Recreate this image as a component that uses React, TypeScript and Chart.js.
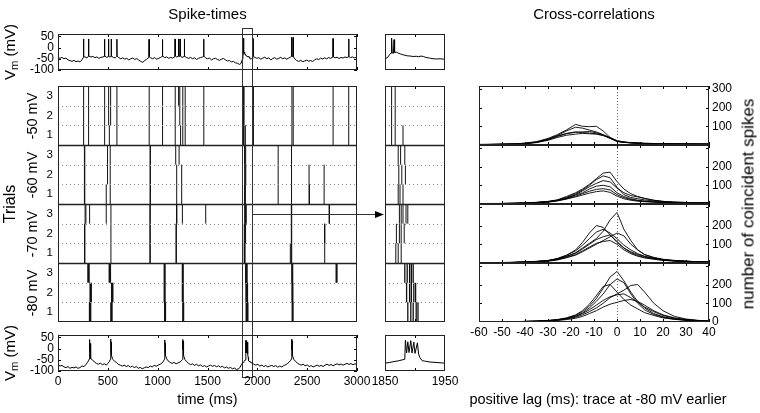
import React, { useEffect, useRef } from "react";
import { Chart, registerables } from "chart.js";

Chart.register(...registerables);

const W = 760;
const H = 413;
const FONT = "'Liberation Sans', Arial, Helvetica, sans-serif";

// ---------------- DATA ----------------
// Membrane potential trace recorded at the -50 mV level: [time ms, Vm mV]
const vmMinus50: [number, number][] = [
  [0, -45], [20, -48], [40, -44], [60, -50], [80, -47], [100, -55], [120, -58], [140, -62], [160, -57], [180, -63],
  [200, -60], [220, -64], [240, -55], [250, -46], [256, -44], [257, 38], [258, -40], [270, -42], [290, -46], [305, -40],
  [307, 38], [309, -38], [330, -42], [350, -40], [370, -45], [390, -42], [410, -48], [430, -44], [450, -42], [465, -40],
  [467, 37], [469, -38], [490, -44], [505, -40], [507, 38], [509, -38], [520, -42], [532, -40], [534, 38], [536, -38],
  [555, -44], [575, -46], [589, -40], [591, 37], [593, -38], [610, -45], [630, -50], [650, -46], [670, -52], [690, -48],
  [710, -55], [730, -50], [750, -47], [770, -53], [790, -49], [810, -56], [830, -62], [850, -66], [870, -58], [890, -52],
  [905, -46], [912, -42], [914, 36], [916, -40], [930, -46], [950, -50], [970, -45], [990, -52], [1010, -48], [1030, -44],
  [1046, -40], [1048, 36], [1050, -38], [1070, -45], [1090, -42], [1110, -48], [1130, -44], [1150, -47], [1165, -42], [1173, -40],
  [1175, 38], [1177, -38], [1190, -42], [1206, -39], [1208, 38], [1210, -37], [1223, -40], [1225, 38], [1227, -38], [1245, -44],
  [1266, -40], [1268, 38], [1270, -38], [1290, -45], [1310, -48], [1330, -44], [1350, -50], [1370, -46], [1390, -53], [1410, -48],
  [1430, -45], [1450, -42], [1460, -40], [1462, 37], [1464, -38], [1480, -46], [1500, -50], [1520, -47], [1540, -55], [1560, -50],
  [1580, -48], [1600, -53], [1620, -57], [1640, -52], [1660, -49], [1680, -55], [1700, -60], [1720, -58], [1740, -64], [1760, -62],
  [1780, -68], [1800, -70], [1820, -75], [1835, -72], [1845, -60], [1850, -52], [1855, -42], [1858, -30], [1860, -25], [1861, 42],
  [1862, -24], [1864, -26], [1865, 35], [1866, -22], [1869, -21], [1873, -26], [1877, -30], [1881, -33], [1887, -37], [1892, -38],
  [1897, -40], [1902, -39], [1906, -41], [1910, -38], [1914, -40], [1918, -44], [1922, -46], [1926, -48], [1930, -50], [1936, -51],
  [1942, -50], [1948, -52], [1955, -44], [1958, -40], [1959, 40], [1960, -38], [1975, -44], [1995, -48], [2015, -45], [2035, -52],
  [2055, -47], [2075, -43], [2095, -50], [2115, -46], [2135, -55], [2155, -49], [2175, -45], [2195, -52], [2215, -48], [2235, -44],
  [2255, -50], [2275, -46], [2295, -52], [2315, -47], [2335, -42], [2341, -40], [2343, 45], [2345, -38], [2357, -40], [2359, 45],
  [2361, -40], [2375, -50], [2395, -58], [2415, -62], [2435, -57], [2455, -63], [2475, -60], [2495, -56], [2515, -61], [2535, -58],
  [2555, -62], [2575, -55], [2595, -50], [2615, -54], [2635, -47], [2655, -51], [2675, -46], [2695, -50], [2715, -45], [2735, -48],
  [2750, -44], [2758, -42], [2760, 40], [2762, -40], [2780, -46], [2800, -43], [2820, -49], [2840, -44], [2860, -47], [2880, -42],
  [2900, -45], [2915, -41], [2917, 38], [2919, -40], [2935, -45], [2955, -42], [2975, -46], [3000, -43],
];

// Membrane potential trace recorded at the -80 mV level: [time ms, Vm mV]
const vmMinus80: [number, number][] = [
  [0, -72], [20, -78], [40, -75], [60, -82], [80, -85], [100, -80], [120, -88], [140, -84], [160, -86], [180, -82],
  [200, -88], [220, -85], [240, -78], [260, -80], [280, -72], [295, -62], [305, -55], [312, -48], [314, 40], [315, -5],
  [317, 35], [318, -8], [320, 30], [321, -10], [323, 22], [325, -25], [330, -45], [345, -50], [365, -60], [385, -66],
  [405, -70], [425, -65], [445, -72], [465, -68], [485, -74], [500, -66], [515, -58], [526, -48], [528, 42], [529, -5],
  [531, 35], [532, -8], [534, 28], [535, -12], [537, 20], [540, -30], [548, -48], [565, -55], [585, -62], [605, -70],
  [625, -74], [645, -78], [665, -74], [685, -80], [705, -76], [725, -83], [745, -78], [765, -85], [785, -80], [805, -88],
  [825, -84], [845, -90], [865, -86], [885, -82], [905, -85], [925, -78], [945, -82], [965, -75], [985, -79], [1005, -74],
  [1025, -70], [1045, -64], [1060, -55], [1068, -48], [1070, 38], [1071, -5], [1073, 32], [1074, -8], [1076, 25], [1077, -10],
  [1079, 20], [1082, -30], [1090, -45], [1105, -55], [1125, -62], [1145, -66], [1165, -62], [1185, -68], [1205, -64], [1225, -60],
  [1240, -54], [1250, -48], [1252, 40], [1253, -5], [1255, 33], [1256, -8], [1258, 26], [1259, -12], [1261, 20], [1264, -30],
  [1272, -48], [1290, -58], [1310, -66], [1330, -72], [1350, -68], [1370, -75], [1390, -70], [1410, -77], [1430, -73], [1450, -80],
  [1470, -76], [1490, -82], [1510, -78], [1530, -74], [1550, -79], [1570, -75], [1590, -81], [1610, -77], [1630, -83], [1650, -79],
  [1670, -86], [1690, -82], [1710, -88], [1730, -84], [1750, -90], [1770, -87], [1790, -93], [1810, -90], [1825, -85], [1840, -72],
  [1850, -65], [1858, -62], [1865, -58], [1872, -55], [1878, -51], [1883, -48], [1884, 37], [1886, -20], [1888, 30], [1890, -18],
  [1893, 35], [1895, -20], [1898, 28], [1900, -22], [1904, 25], [1906, -24], [1908, -40], [1912, -54], [1918, -57], [1925, -60],
  [1935, -62], [1950, -65], [1965, -70], [1985, -74], [2005, -70], [2025, -78], [2045, -74], [2065, -80], [2085, -76], [2105, -82],
  [2125, -78], [2145, -75], [2165, -80], [2185, -76], [2205, -83], [2225, -78], [2245, -82], [2265, -76], [2285, -72], [2305, -66],
  [2320, -60], [2335, -52], [2343, -46], [2345, 42], [2346, -5], [2348, 34], [2349, -8], [2351, 26], [2352, -12], [2354, 20],
  [2357, -30], [2365, -48], [2380, -56], [2400, -64], [2420, -70], [2440, -74], [2460, -70], [2480, -77], [2500, -73], [2520, -80],
  [2540, -76], [2560, -82], [2580, -78], [2600, -74], [2620, -79], [2640, -75], [2660, -80], [2680, -74], [2700, -70], [2720, -75],
  [2740, -71], [2760, -77], [2780, -72], [2800, -68], [2820, -73], [2840, -69], [2860, -74], [2880, -70], [2900, -66], [2920, -71],
  [2940, -67], [2960, -72], [2980, -68], [3000, -70],
];

// Spike times (ms) per holding level; inner arrays are trials 1, 2, 3
const spikesMinus50: number[][] = [
  [257, 307, 468, 515, 591, 915, 1049, 1176, 1230, 1252, 1276, 1463, 1861, 1867, 1880, 1961, 2347, 2360, 2760, 2917],
  [257, 307, 468, 508, 528, 591, 915, 1049, 1176, 1222, 1252, 1276, 1463, 1861, 1867, 1961, 2347, 2360, 2760, 2917],
  [257, 307, 468, 508, 528, 591, 915, 1049, 1176, 1210, 1222, 1252, 1276, 1463, 1861, 1867, 1961, 2347, 2360, 2760, 2917],
];
const spikesMinus60: number[][] = [
  [265, 269, 484, 524, 924, 927, 1191, 1241, 1872, 1875, 1880, 2209, 2343, 2519, 2523, 2670],
  [265, 269, 497, 524, 924, 927, 1191, 1241, 1873, 1878, 1884, 2209, 2343, 2519, 2670],
  [265, 269, 497, 524, 924, 927, 1181, 1215, 1872, 1876, 1883, 2209, 2343],
];
const spikesMinus70: number[][] = [
  [266, 270, 531, 922, 926, 1184, 1188, 1868, 1872, 1877, 2331, 2341, 2345, 2676],
  [266, 270, 531, 922, 926, 1184, 1188, 1869, 1874, 1877, 1882, 2341, 2345, 2674, 2678],
  [272, 280, 317, 484, 531, 922, 926, 1189, 1193, 1248, 1482, 1874, 1877, 1880, 1885, 1888, 2341, 2345, 2720, 2724],
];
const spikesMinus80: number[][] = [
  [316, 320, 324, 328, 530, 534, 538, 542, 1070, 1074, 1078, 1252, 1256, 1260, 1888, 1893, 1897, 1902, 1905, 2350, 2354, 2358],
  [322, 326, 330, 334, 538, 542, 546, 550, 1066, 1070, 1074, 1248, 1252, 1256, 1886, 1891, 1894, 1898, 1901, 2348, 2352, 2356],
  [300, 304, 308, 312, 514, 518, 522, 526, 1066, 1070, 1074, 1248, 1252, 1256, 1883, 1887, 1891, 1894, 1897, 2346, 2350, 2354, 2791, 2795, 2799],
];
const levelNames = ["-50 mV", "-60 mV", "-70 mV", "-80 mV"];
const trialLabels = [1, 2, 3];

// Cross-correlations: lag (ms) and coincident spike counts, one list per pair
const ccLags = [-60, -55, -50, -45, -40, -35, -30, -26, -22, -18, -15, -12, -9, -6, -3, 0, 3, 6, 9, 12, 16, 20, 25, 30, 35, 40];
const ccMinus50: number[][] = [
  [3, 4, 5, 6, 10, 18, 35, 55, 80, 110, 100, 98, 100, 75, 40, 18, 15, 12, 10, 8, 8, 7, 6, 6, 5, 5],
  [2, 3, 4, 6, 9, 16, 32, 50, 75, 95, 90, 80, 70, 55, 35, 20, 14, 12, 10, 9, 8, 7, 6, 5, 6, 5],
  [2, 3, 4, 5, 8, 14, 28, 45, 60, 68, 70, 72, 65, 55, 40, 22, 16, 12, 10, 8, 7, 7, 6, 5, 5, 4],
  [2, 2, 3, 5, 7, 13, 25, 40, 52, 58, 62, 60, 58, 50, 36, 20, 14, 11, 9, 8, 7, 6, 6, 5, 5, 5],
  [3, 3, 4, 5, 8, 15, 30, 48, 62, 70, 66, 64, 60, 52, 38, 24, 16, 13, 11, 9, 8, 7, 6, 6, 5, 4],
];
const ccMinus60: number[][] = [
  [2, 3, 3, 4, 6, 9, 14, 22, 40, 60, 80, 105, 135, 165, 170, 120, 80, 55, 40, 30, 20, 14, 10, 8, 7, 6],
  [2, 2, 3, 4, 5, 8, 13, 20, 35, 55, 75, 100, 130, 150, 140, 90, 50, 35, 28, 22, 16, 12, 9, 8, 6, 6],
  [1, 2, 3, 3, 5, 8, 12, 20, 32, 48, 60, 80, 95, 100, 92, 60, 40, 28, 20, 16, 12, 10, 8, 7, 6, 5],
  [1, 2, 2, 3, 5, 7, 11, 18, 28, 42, 55, 68, 78, 82, 75, 50, 34, 24, 18, 14, 11, 9, 7, 6, 5, 5],
  [1, 1, 2, 3, 4, 7, 10, 16, 26, 38, 48, 58, 66, 70, 62, 42, 28, 20, 15, 12, 10, 8, 7, 6, 5, 4],
  [2, 2, 3, 4, 5, 8, 12, 19, 30, 50, 70, 92, 110, 125, 118, 85, 60, 45, 38, 30, 20, 14, 10, 8, 7, 6],
];
const ccMinus70: number[][] = [
  [1, 2, 2, 3, 5, 8, 12, 20, 35, 55, 80, 105, 130, 170, 230, 270, 180, 120, 70, 45, 28, 18, 12, 9, 7, 6],
  [1, 2, 2, 3, 5, 8, 13, 22, 40, 70, 110, 160, 200, 190, 150, 110, 80, 60, 45, 35, 25, 18, 12, 9, 7, 6],
  [1, 2, 3, 4, 6, 9, 14, 24, 42, 65, 95, 130, 165, 180, 160, 130, 95, 70, 50, 36, 25, 17, 12, 9, 7, 6],
  [1, 1, 2, 3, 5, 8, 12, 20, 35, 52, 75, 100, 125, 140, 150, 115, 80, 55, 40, 30, 22, 15, 11, 8, 6, 5],
  [1, 2, 2, 3, 5, 7, 11, 18, 30, 45, 65, 85, 105, 115, 120, 100, 70, 50, 36, 27, 20, 14, 10, 8, 6, 5],
  [1, 1, 2, 3, 5, 7, 10, 16, 28, 42, 60, 80, 100, 120, 140, 160, 145, 100, 70, 45, 30, 20, 14, 10, 7, 6],
];
const ccMinus80: number[][] = [
  [1, 1, 2, 2, 3, 5, 8, 12, 20, 35, 55, 85, 125, 180, 240, 270, 220, 160, 110, 75, 45, 28, 16, 10, 7, 5],
  [1, 1, 1, 2, 3, 4, 6, 10, 16, 25, 38, 55, 75, 100, 130, 150, 170, 195, 200, 160, 100, 60, 30, 16, 9, 6],
  [1, 1, 2, 2, 3, 5, 8, 13, 22, 38, 60, 95, 140, 190, 200, 160, 120, 90, 70, 50, 35, 22, 14, 9, 6, 5],
  [1, 1, 1, 2, 3, 4, 7, 11, 18, 30, 45, 65, 90, 115, 135, 145, 150, 130, 105, 80, 55, 35, 20, 12, 8, 5],
  [1, 1, 1, 2, 2, 3, 5, 8, 13, 20, 30, 45, 60, 80, 95, 105, 115, 120, 110, 90, 60, 38, 22, 13, 8, 5],
  [1, 1, 2, 2, 3, 4, 7, 11, 18, 30, 48, 75, 110, 150, 200, 230, 210, 150, 100, 65, 40, 25, 15, 10, 7, 5],
];

// Axis ranges & ticks
const timeRange = [0, 3000];
const timeTicks = [0, 500, 1000, 1500, 2000, 2500, 3000];
const zoomRange = [1850, 1950];
const zoomTickLabels = [1850, 1950];
const zoomTickMarks = [1900];
const vmRange = [-100, 60];
const vmTicks = [-100, -50, 0, 50];
const lagRange = [-60, 40];
const lagTicks = [-60, -50, -40, -30, -20, -10, 0, 10, 20, 30, 40];
const countRange = [0, 315];
const countTicks = [0, 100, 200, 300];
const countLabelsShown = [[100, 200, 300], [100, 200], [100, 200], [0, 100, 200]];

// ---------------- LAYOUT ----------------
const MAIN = { x0: 58, x1: 357 };
const ZOOM = { x0: 385, x1: 445 };
const CC = { x0: 479, x1: 709 };
const ROW_TOP = { y0: 34, y1: 70 };
const ROW_RASTER = { y0: 86, y1: 322 };
const ROW_BOT = { y0: 335, y1: 371 };
const Y_AXIS_W = 44;
const X_AXIS_H = 22;

type AxisSpec = {
  min: number;
  max: number;
  ticks: number[];
  labels?: boolean;
  position?: "left" | "right" | "bottom";
  fmt?: (v: number) => string;
  fontSize?: number;
  padding?: number;
  marks?: number[];
};
type PanelSpec = {
  x0: number;
  x1: number;
  y0: number;
  y1: number;
  x: AxisSpec;
  y: AxisSpec;
  datasets: any[];
  extra?: (chart: any) => void;
};

function fixedFit(size: number) {
  return (s: any) => {
    if (s.isHorizontal()) s.height = size;
    else s.width = size;
    s.paddingLeft = 0;
    s.paddingRight = 0;
    s.paddingTop = 0;
    s.paddingBottom = 0;
  };
}

function axisOptions(a: AxisSpec, pos: string, size: number) {
  return {
    type: "linear",
    position: pos,
    min: a.min,
    max: a.max,
    grid: { display: false, drawTicks: false },
    border: { display: false },
    afterBuildTicks: (s: any) => {
      s.ticks = a.ticks.map((v) => ({ value: v }));
    },
    afterFit: fixedFit(size),
    ticks: {
      display: !!a.labels,
      autoSkip: false,
      maxRotation: 0,
      minRotation: 0,
      padding: a.padding ?? 3,
      color: "#000",
      font: { family: FONT, size: a.fontSize ?? 12 },
      callback: (v: any) => (a.fmt ? a.fmt(Number(v)) : String(v)),
    },
  };
}

function framePlugin(p: PanelSpec) {
  return {
    id: "frame",
    afterDraw(chart: any) {
      const ctx = chart.ctx as CanvasRenderingContext2D;
      const a = chart.chartArea;
      const xs = chart.scales.x;
      const ys = chart.scales.y;
      const L = Math.round(a.left);
      const R = Math.round(a.right);
      const T = Math.round(a.top);
      const B = Math.round(a.bottom);
      ctx.save();
      if (p.extra) p.extra(chart);
      ctx.strokeStyle = "#000";
      ctx.lineWidth = 1;
      ctx.setLineDash([]);
      ctx.beginPath();
      (p.x.marks || []).forEach((v) => {
        const px = Math.round(xs.getPixelForValue(v)) + 0.5;
        ctx.moveTo(px, T);
        ctx.lineTo(px, T + 3);
        ctx.moveTo(px, B);
        ctx.lineTo(px, B - 3);
      });
      (p.y.marks || []).forEach((v) => {
        const py = Math.round(ys.getPixelForValue(v)) + 0.5;
        ctx.moveTo(L, py);
        ctx.lineTo(L + 3, py);
        ctx.moveTo(R, py);
        ctx.lineTo(R - 3, py);
      });
      ctx.stroke();
      ctx.strokeStyle = "#222";
      ctx.strokeRect(L + 0.5, T + 0.5, R - L - 1, B - T - 1);
      ctx.restore();
    },
  };
}

function makeChart(canvas: HTMLCanvasElement, p: PanelSpec) {
  const yPos = p.y.position ?? "left";
  const yW = p.y.labels ? Y_AXIS_W : 0;
  const xH = p.x.labels ? X_AXIS_H : 0;
  const padLeft = p.x0 - (yPos === "left" ? yW : 0);
  const padRight = W - p.x1 - (yPos === "right" ? yW : 0);
  const padBottom = H - p.y1 - xH;
  return new Chart(canvas, {
    type: "line",
    data: { datasets: p.datasets },
    options: {
      responsive: false,
      animation: false,
      events: [],
      devicePixelRatio: 1,
      layout: { padding: { left: padLeft, right: padRight, top: p.y0, bottom: padBottom } },
      plugins: { legend: { display: false }, tooltip: { enabled: false }, title: { display: false } },
      scales: {
        x: axisOptions(p.x, "bottom", xH),
        y: axisOptions(p.y, yPos, yW),
      },
    },
    plugins: [framePlugin(p)],
  } as any);
}

const allLevels = [spikesMinus50, spikesMinus60, spikesMinus70, spikesMinus80];
const nTrials = trialLabels.length;
const nRows = allLevels.length * nTrials;

function rasterDatasets() {
  return allLevels.map((trials, k) => {
    const pts: { x: number; y: number }[] = [];
    trials.forEach((times, j) => {
      const yc = (allLevels.length - 1 - k) * nTrials + (j + 1);
      times.forEach((t) => {
        pts.push({ x: t, y: yc - 0.5 }, { x: t, y: yc + 0.5 }, { x: t, y: NaN });
      });
    });
    return {
      data: pts,
      borderColor: "#111",
      borderWidth: k === 3 ? 1.3 : 1,
      pointRadius: 0,
      tension: 0,
      spanGaps: false,
    };
  });
}

function traceDataset(pts: [number, number][]) {
  return {
    data: pts.map(([t, v]) => ({ x: t, y: v })),
    borderColor: "#000",
    borderWidth: 1,
    pointRadius: 0,
    tension: 0,
  };
}

function drawRasterGrid(chart: any) {
  const ctx = chart.ctx as CanvasRenderingContext2D;
  const a = chart.chartArea;
  const ys = chart.scales.y;
  for (let b = 1; b < nRows; b++) {
    const py = Math.round(ys.getPixelForValue(b + 0.5)) + 0.5;
    ctx.beginPath();
    if (b % nTrials === 0) {
      ctx.setLineDash([]);
      ctx.strokeStyle = "#222";
      ctx.lineWidth = 1.6;
    } else {
      ctx.setLineDash([1, 3]);
      ctx.strokeStyle = "#888";
      ctx.lineWidth = 1;
    }
    ctx.moveTo(a.left, py);
    ctx.lineTo(a.right, py);
    ctx.stroke();
  }
  ctx.setLineDash([]);
}

function drawZoomMarker(chart: any) {
  const ctx = chart.ctx as CanvasRenderingContext2D;
  const xs = chart.scales.x;
  const ys = chart.scales.y;
  const xa = Math.round(xs.getPixelForValue(zoomRange[0])) + 0.5;
  const xb = Math.round(xs.getPixelForValue(zoomRange[1])) + 0.5;
  const top = ROW_TOP.y0 - 6 + 0.5;
  const bot = ROW_BOT.y1 + 6 + 0.5;
  ctx.setLineDash([]);
  ctx.strokeStyle = "#333";
  ctx.lineWidth = 1;
  ctx.strokeRect(xa, top, xb - xa, bot - top);
  // arrow to the zoomed raster (level -70 mV, trial 3)
  const ay = Math.round(ys.getPixelForValue(2 * nTrials)) + 0.5;
  const tip = ZOOM.x0 - 1;
  ctx.beginPath();
  ctx.moveTo(xb, ay);
  ctx.lineTo(tip - 7, ay);
  ctx.stroke();
  ctx.fillStyle = "#000";
  ctx.beginPath();
  ctx.moveTo(tip, ay);
  ctx.lineTo(tip - 9, ay - 3.5);
  ctx.lineTo(tip - 9, ay + 3.5);
  ctx.closePath();
  ctx.fill();
}

function drawZeroLag(chart: any) {
  const ctx = chart.ctx as CanvasRenderingContext2D;
  const a = chart.chartArea;
  const px = Math.round(chart.scales.x.getPixelForValue(0)) + 0.5;
  ctx.setLineDash([1, 2]);
  ctx.strokeStyle = "#666";
  ctx.lineWidth = 1;
  ctx.beginPath();
  ctx.moveTo(px, a.top);
  ctx.lineTo(px, a.bottom);
  ctx.stroke();
  ctx.setLineDash([]);
}

function buildPanels(): PanelSpec[] {
  const rowTicks: number[] = [];
  for (let i = 1; i <= nRows; i++) rowTicks.push(i);
  const rowFmt = (v: number) => String(trialLabels[(v - 1) % nTrials]);
  const panels: PanelSpec[] = [];
  // main top trace
  panels.push({
    ...MAIN, ...ROW_TOP,
    x: { min: timeRange[0], max: timeRange[1], ticks: timeTicks, marks: timeTicks },
    y: { min: vmRange[0], max: vmRange[1], ticks: vmTicks, labels: true, padding: 4, marks: vmTicks },
    datasets: [traceDataset(vmMinus50)],
  });
  // main raster
  panels.push({
    ...MAIN, ...ROW_RASTER,
    x: { min: timeRange[0], max: timeRange[1], ticks: timeTicks },
    y: { min: 0.5, max: nRows + 0.5, ticks: rowTicks, labels: true, fmt: rowFmt, fontSize: 11.5, padding: 5 },
    datasets: rasterDatasets(),
    extra: (c) => {
      drawRasterGrid(c);
      drawZoomMarker(c);
    },
  });
  // main bottom trace
  panels.push({
    ...MAIN, ...ROW_BOT,
    x: { min: timeRange[0], max: timeRange[1], ticks: timeTicks, labels: true, marks: timeTicks, padding: 3 },
    y: { min: vmRange[0], max: vmRange[1], ticks: vmTicks, labels: true, padding: 4, marks: vmTicks },
    datasets: [traceDataset(vmMinus80)],
  });
  // zoom top trace
  panels.push({
    ...ZOOM, ...ROW_TOP,
    x: { min: zoomRange[0], max: zoomRange[1], ticks: zoomTickLabels, marks: zoomTickMarks },
    y: { min: vmRange[0], max: vmRange[1], ticks: vmTicks },
    datasets: [traceDataset(vmMinus50)],
  });
  // zoom raster
  panels.push({
    ...ZOOM, ...ROW_RASTER,
    x: { min: zoomRange[0], max: zoomRange[1], ticks: zoomTickLabels, marks: zoomTickMarks },
    y: { min: 0.5, max: nRows + 0.5, ticks: rowTicks },
    datasets: rasterDatasets(),
    extra: drawRasterGrid,
  });
  // zoom bottom trace
  panels.push({
    ...ZOOM, ...ROW_BOT,
    x: { min: zoomRange[0], max: zoomRange[1], ticks: zoomTickLabels, labels: true, marks: zoomTickMarks, padding: 3 },
    y: { min: vmRange[0], max: vmRange[1], ticks: vmTicks },
    datasets: [traceDataset(vmMinus80)],
  });
  // cross-correlation panels
  const ccSets = [ccMinus50, ccMinus60, ccMinus70, ccMinus80];
  const ph = (ROW_RASTER.y1 - ROW_RASTER.y0) / ccSets.length;
  ccSets.forEach((curves, i) => {
    const shown = countLabelsShown[i];
    panels.push({
      ...CC,
      y0: Math.round(ROW_RASTER.y0 + i * ph),
      y1: Math.round(ROW_RASTER.y0 + (i + 1) * ph),
      x: {
        min: lagRange[0], max: lagRange[1], ticks: lagTicks, marks: lagTicks,
        labels: i === ccSets.length - 1, padding: 3,
      },
      y: {
        min: countRange[0], max: countRange[1], ticks: countTicks, marks: countTicks.slice(1),
        labels: true, position: "right", padding: 3,
        fmt: (v) => (shown.includes(v) ? String(v) : ""),
      },
      datasets: curves.map((vals) => ({
        data: ccLags.map((l, k) => ({ x: l, y: vals[k] })),
        borderColor: "#000",
        borderWidth: 0.9,
        pointRadius: 0,
        tension: 0,
      })),
      extra: drawZeroLag,
    });
  });
  return panels;
}

const N_PANELS = 10;

function Label(props: { x: number; y: number; size: number; rotate?: boolean; children: React.ReactNode }) {
  return (
    <div
      style={{
        position: "absolute",
        left: props.x,
        top: props.y,
        transform: `translate(-50%, -50%)${props.rotate ? " rotate(-90deg)" : ""}`,
        fontFamily: FONT,
        fontSize: props.size,
        lineHeight: 1,
        whiteSpace: "nowrap",
        color: "#000",
      }}
    >
      {props.children}
    </div>
  );
}

function VmLabel() {
  return (
    <span>
      V<sub style={{ fontSize: "75%", verticalAlign: "-0.25em" }}>m</sub> (mV)
    </span>
  );
}

export default function App() {
  const refs = useRef<(HTMLCanvasElement | null)[]>([]);
  useEffect(() => {
    const specs = buildPanels();
    const charts = specs.map((s, i) => makeChart(refs.current[i] as HTMLCanvasElement, s));
    return () => charts.forEach((c) => c.destroy());
  }, []);
  const rasterH = (ROW_RASTER.y1 - ROW_RASTER.y0) / levelNames.length;
  return (
    <div style={{ position: "absolute", left: 0, top: 0, width: W, height: H, background: "#fff", overflow: "hidden" }}>
      {Array.from({ length: N_PANELS }).map((_, i) => (
        <canvas
          key={i}
          ref={(el) => {
            refs.current[i] = el;
          }}
          width={W}
          height={H}
          style={{ position: "absolute", left: 0, top: 0, width: W, height: H }}
        />
      ))}
      <Label x={(MAIN.x0 + MAIN.x1) / 2} y={13} size={15}>Spike-times</Label>
      <Label x={(CC.x0 + CC.x1) / 2} y={13} size={15}>Cross-correlations</Label>
      <Label x={(MAIN.x0 + MAIN.x1) / 2} y={399} size={14.5}>time (ms)</Label>
      <Label x={598} y={399} size={14.5}>positive lag (ms): trace at -80 mV earlier</Label>
      <Label x={748} y={(ROW_RASTER.y0 + ROW_RASTER.y1) / 2} size={17} rotate>number of coincident spikes</Label>
      <Label x={10} y={(ROW_RASTER.y0 + ROW_RASTER.y1) / 2} size={16} rotate>Trials</Label>
      {levelNames.map((n, i) => (
        <Label key={n} x={32} y={ROW_RASTER.y0 + (i + 0.5) * rasterH} size={14.5} rotate>{n}</Label>
      ))}
      <Label x={11} y={(ROW_TOP.y0 + ROW_TOP.y1) / 2} size={15} rotate><VmLabel /></Label>
      <Label x={11} y={(ROW_BOT.y0 + ROW_BOT.y1) / 2} size={15} rotate><VmLabel /></Label>
    </div>
  );
}
